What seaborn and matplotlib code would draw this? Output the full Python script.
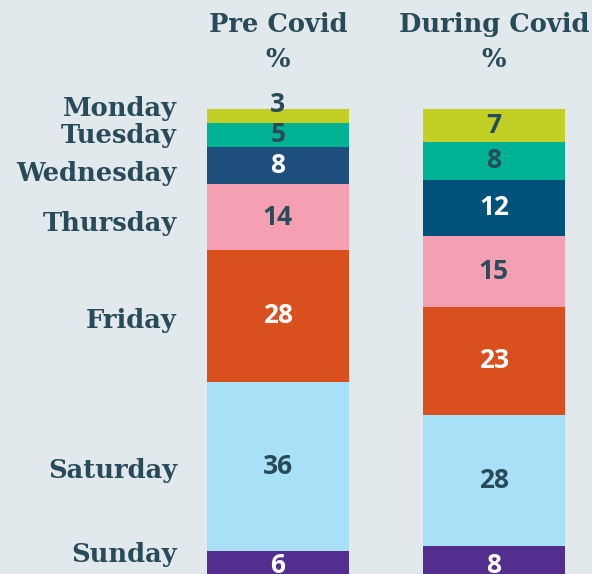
import seaborn as sns
import matplotlib.pyplot as plt
import numpy as np

periods = ["Pre Covid", "During Covid"]
days = ["Monday", "Tuesday", "Wednesday", "Thursday", "Friday", "Saturday", "Sunday"]
pre_covid = [3, 5, 8, 14, 28, 36, 6]
during_covid = [7, 8, 12, 15, 23, 28, 8]

# colours per day: (pre, during)
day_colors = [
    ("#c2cf24", "#c2cf24"),
    ("#00b294", "#00b294"),
    ("#1e4f7c", "#00527a"),
    ("#f4a0b2", "#f4a0b2"),
    ("#da4f1e", "#da4f1e"),
    ("#a8e0f8", "#a8e0f8"),
    ("#532e8f", "#532e8f"),
]
light_days = {"Monday", "Tuesday", "Thursday", "Saturday"}

BG = "#e1e9ed"
DARK = "#294a59"

sns.set_theme(style="white")
fig = plt.figure(figsize=(5.92, 5.74), dpi=100, facecolor=BG)
ax = fig.add_axes([0, 0, 1, 1])
ax.set_facecolor(BG)

pre_cum = np.cumsum(pre_covid)
dur_cum = np.cumsum(during_covid)

# draw stacked bars from the bottom segment up, each bar from 0 to its cumulative total
for i in range(len(days) - 1, -1, -1):
    sns.barplot(x=periods, y=[pre_cum[i], dur_cum[i]], hue=periods,
                palette=list(day_colors[i]), width=0.657, legend=False,
                ax=ax, saturation=1, linewidth=0)

ax.set_xlim(-1.287, 1.454)
ax.set_ylim(98.9, -23.2)
ax.axis("off")

serif = {"family": "DejaVu Serif", "weight": "bold", "color": DARK}
sans = {"family": "Open Sans", "weight": "bold"}

# column headers
for j, p in enumerate(periods):
    ax.text(j, -18.0, p, ha="center", va="center", fontsize=18.5, **serif)
    ax.text(j, -10.6, "%", ha="center", va="center", fontsize=18.5, **serif)

# value labels
for j, (vals, cum) in enumerate([(pre_covid, pre_cum), (during_covid, dur_cum)]):
    for i, (v, c) in enumerate(zip(vals, cum)):
        mid = c - v / 2
        if j == 0 and i == 0:
            mid = -0.9
        if i == len(days) - 1:
            mid = min(mid, 97.0)
        col = DARK if days[i] in light_days else "white"
        ax.text(j, mid, str(v), ha="center", va="center", fontsize=19,
                color=col, **sans)

# day labels next to the pre covid bar
label_shift = [-1.6, 0.2, 1.8, 1.4, 0.9, 0.9, -0.6]
for i, d in enumerate(days):
    mid = pre_cum[i] - pre_covid[i] / 2 + label_shift[i]
    mid = min(mid, 94.8)
    ax.text(-0.468, mid, d, ha="right", va="center", fontsize=18.5, **serif)

fig.savefig("out.png", dpi=100, facecolor=BG)
